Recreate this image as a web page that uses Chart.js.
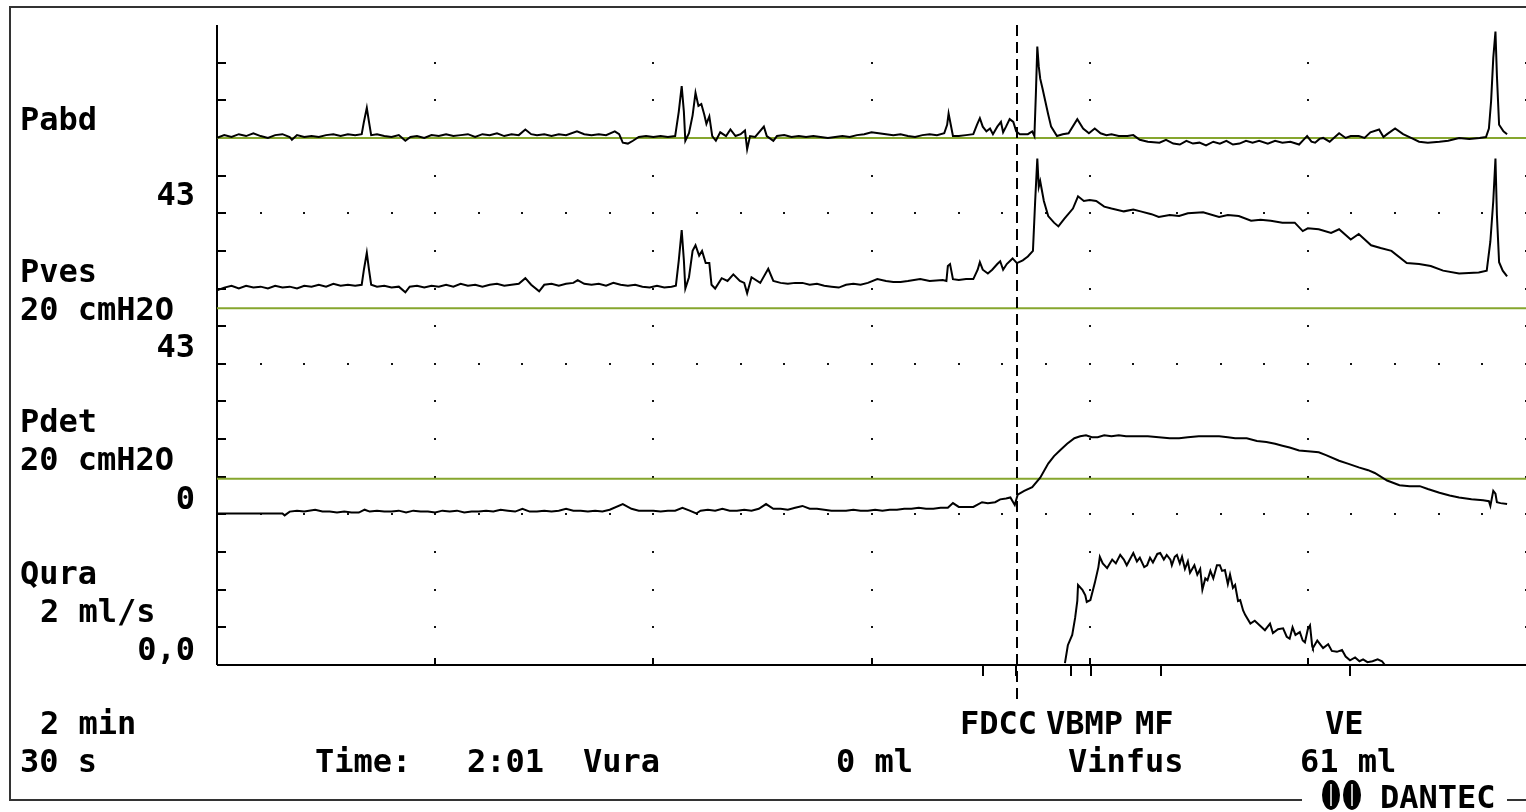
<!DOCTYPE html>
<html>
<head>
<meta charset="UTF-8">
<title>Pabd / Pves / Pdet / Qura</title>
<script src="https://cdn.jsdelivr.net/npm/chart.js"></script>
<style>
  html, body {margin: 0; padding: 0; background: #fff;}
  #wrap {position: relative; width: 1526px; height: 812px;}
</style>
</head>
<body>
<div id="wrap"><canvas id="trace" width="1526" height="812"></canvas></div>

<script>
// time on screen, seconds (30 s per major division)
const timeRange = [0, 180];
const majorStep = 30;
const minorStep = 6;

// Pabd, cmH2O
const pabdT = [0,1,2,3,4,5,6,7,8,9,10,10.3,11,12,13,14,15,16,17,18,19,19.9,20.2,20.6,20.9,21.2,
  22,23,24,25,25.9,26.6,27.5,28.5,29.5,30.5,31.5,32.5,33.5,34.5,35.5,36.5,37.5,38.5,39.5,40.5,41.5,
  42.4,43.2,44,45,46,47,48,49.5,50.5,51.5,52.5,53.5,54.7,55.3,55.8,56.5,57.2,58,59,60,61,62,63,
  63.5,63.9,64.2,64.4,64.9,65.4,65.8,66.2,66.6,67,67.3,67.7,68.1,68.6,69.2,70,70.6,71.3,72,72.6,72.9,
  73.3,74,75.2,75.6,76.5,77,78,79,80,81,82,83,84,85,86,87,88,89,90,91,92,93,94,95,96,97,98,99,100,
  100.4,100.6,100.9,101.2,102,103,104,104.5,104.9,105.3,105.8,106.3,106.7,107.3,107.8,108.1,108.5,
  109,109.5,109.9,110.4,111.5,112.1,112.4,112.6,112.8,113,113.2,113.5,113.9,114.3,114.7,115.5,116.3,
  117.1,118.3,119.1,119.9,120.7,121.5,122.3,123,124,125.2,126,126.9,128,129.6,130.5,131.5,132.4,
  133.3,134.2,135.1,136,137,137.9,138.8,139.7,140.6,141.5,142.4,143.3,144.5,145.5,146.5,147.6,148.8,
  149.4,149.9,150.5,151,151.6,152.1,153,154.3,155.2,155.9,157,157.8,158.6,159.8,160.4,160.9,162,
  163.1,164.2,165.3,166.5,168.1,169.3,170.8,172.2,173.6,174.5,174.9,175.2,175.5,175.8,176,176.3,
  176.9,177.4];
const pabdV = [40,41.5,40.5,42,41,42.5,41,40,41.5,42,40.5,39,41.5,40.5,41,40.5,41.5,42,41,42,41.5,42,48.5,56,48.5,41.5,
  42,41,40.5,41.5,38.5,40.5,41,40,41.5,41,42,41,41.5,42,40.5,42,41.5,42.5,41,42,41.5,
  44.5,42,41.5,42,41,42,41.5,43.5,42,41.5,42,41.5,43.5,42,37.5,37,38.5,40.5,41,40.5,41,40.5,41,
  54,67.5,54,38.5,42.5,52,64,57,58,52.5,47.5,51.5,41,38.5,43,41,44.5,41,42,44,34,
  41,40.5,46,41,38.5,41,41.5,40.5,41,40.5,41,40.5,40,40.5,41,40.5,41.5,42,43,42.5,42,41.5,42,41,40.5,41.5,42,41.5,42.5,
  47,53,47,41,41,41.5,42,47,50.5,46,43.5,45,42,46,48.5,43,46,
  50,48.5,43.5,42,42,43.5,41,63,88.5,78,71.5,66.5,59.5,52.5,46,41,42,
  42.5,50,45,42.5,45,42.5,41.5,42,41,41,41.5,39,38,37.5,39,37,36.5,
  38.5,37,37.5,36,38,37,38.5,36.5,37,38.5,37.5,38.5,37,38.5,37.5,38,36.5,
  39,41,38,37.5,39.5,40,38,42.5,40,41,41,40,43,44.5,40.5,42,45,
  42,40,38,37.5,38,38.5,40,39.5,40,40.5,45,59.5,82.5,96.5,73,47,
  43.5,42];

// Pves, cmH2O
const pvesT = [0,1,2,3,4,5,6,7,8,9,10,11,12,13,14,15,16,17,18,19,19.9,20.2,20.6,20.9,21.2,
  22,23,24,25,25.9,26.5,27.5,28.5,29.5,30.5,31.5,32.5,33.5,34.5,35.5,36.5,37.5,38.5,39.5,40.5,41.5,
  42.4,43.2,44.3,45,46,47,48,49,49.6,50.5,51.5,52.5,53.5,54.5,55.5,56.5,57.5,58.5,59.5,60.5,61.5,62.5,63.1,
  63.5,63.9,64.2,64.4,64.9,65.4,65.8,66.3,66.7,67.2,67.7,68,68.5,69.4,70.2,71,71.9,72.5,72.9,73.5,74.7,
  75.8,76.5,77.5,78.5,79.5,80.5,81.5,82.5,83.5,84.5,85.5,86.5,87.5,88.5,89.5,90.8,92,93,94,95,96.7,98,99.8,
  100.3,100.5,100.8,101.2,102,103,104,104.6,104.9,105.3,106,106.6,107.3,107.7,108.1,108.6,109.4,110,
  110.8,111.5,112.2,112.5,112.8,113,113.2,113.7,114.3,115.1,115.7,116.5,117.7,118.4,119.2,120,120.9,
  122,123,124.7,126,127,128.5,129.5,131,132.3,133.5,135.6,137.8,139,140.5,142.2,143.5,144.9,146.5,
  148.2,149.3,150,151.5,153.2,154.3,155.9,157,158.7,160,161.5,163.6,165.3,166.9,168.6,170.8,173.5,
  174.6,175.1,175.5,175.8,176,176.3,176.8,177.4];
const pvesV = [39,40.5,41.5,40,41.5,40.5,41,40,41.5,40.5,41,40,41.5,41,42,41,42.5,41.5,42,41.5,42,50,59,50,42,
  41,41.5,40.5,41,38,41,41.5,40.5,41.5,41,42,41,42.5,41.5,42,41,42,42.5,41.5,42,42.5,
  45.5,42,38.5,42,42.5,41.5,42.5,43,44.5,42.5,42,42.5,41.5,43,42,41.5,42,41,40.5,41.5,40.5,41,41.5,
  55,71,55,40,46,60,63,57.5,60,53.5,53.5,42,40,45.5,44,47.5,44,43,37.5,46,43,
  50.5,44,43,42.5,43,43,42,42.5,41.5,41,40.5,42,42.5,42,43,45,44,43.5,43.5,44,45,44,44.5,
  44,52,53,45,44.5,45,45,50,54,50,48,50,53,54.5,50,53,56,53.5,
  55,57,60,86,109,94,97,86.5,78.5,75,73,77,82.5,89,86.5,87,86.5,
  83.5,82.5,81,82,81,79.5,78,79,78.5,80,80.5,78,79,78.5,76,76.5,76,75,
  75,70.5,72,71.5,69.5,71.5,66,69,63,61.5,60,53.5,53,52,49.5,48,48.5,
  49.5,65,86.5,109,79,54,49.5,46.5];

// Pdet, cmH2O
const pdetT = [0,9,9.3,10,11,12,13.5,14.5,15.5,16.5,17.5,18.5,19.5,20.3,21,22,23,24,25,26,27,28,29,30,
  31,32,33,34,35,36,37,38,39,40,41,42,43,44,45,46,47,48,49,50,51,52,53,54,55.8,57,58,59,60,61,62,63,
  64,65,65.9,66.5,67.5,68.5,69.5,70.5,71.5,72.5,73.5,74.5,75.5,76.5,77.5,78.5,79.5,80.5,81.5,82.5,
  83.5,84.5,85.5,86.5,87.5,88.5,89.5,90.5,91.5,92.5,93.5,94.5,95.5,96.5,97.5,98.5,99.5,100.5,101.2,
  102,103,104,105.2,106,107,107.7,108.5,109.1,109.7,110.1,111,112.1,113.2,114.3,115.1,115.9,116.9,
  117.9,118.7,119.5,120.3,121.1,122,123,124,125,126.9,128,129.5,131,132.3,133.5,135,136.5,137.8,139,
  140,141.6,143,144.3,145.5,146.5,147.5,148.8,150,151.5,152.5,154.3,155.5,157,158.3,159.2,160.9,
  162.6,164,165.4,166.5,168.1,169.5,170.8,172.5,174.1,174.9,175.1,175.5,175.8,176,176.5,177.4];
const pdetV = [0.5,0.5,-0.5,1.5,2,1.5,2.5,1.5,1.5,1,1.5,1,1,2.5,1.5,2,1.5,1.5,2,1,2,1.5,1.5,1,
  2,1.5,2,1,1.5,1.5,2,1.5,2.5,2,1.5,3,1.5,1.5,2,1.5,2,3,2,2,1.5,2,1.5,2.5,5.5,3,2,2,2,1.5,2,2,
  3.5,2,0.5,2,2.5,2,3,2,2,2.5,2,3,5.5,3,3,2.5,3.5,4.5,3,3,
  2.5,2,2,2,2.5,2,2,2.5,2,2.5,2.5,3,3,3.5,3,3,3.5,3.5,6,
  4,4,4,6.5,6,6.5,8,8.5,9,5,10.5,12.5,14.5,19.5,27,31,34,37.5,
  40.5,41.5,42,41,41,42,41.5,42,41.5,41.5,41.5,41,40.5,40.5,41,41.5,41.5,41.5,41,
  40.5,40.5,39,38.5,37.5,36.5,35.5,34,33.5,33,31.5,28.5,27,25,23.5,22,18,
  15.5,15,15,13.5,11.5,10,9,8,7.5,7,4.5,12.5,11,6.5,6,5.5];

// Qura, ml/s
const quraT = [116.6,117,117.6,118,118.3,118.4,119,119.4,119.6,120.1,120.7,121.2,121.4,121.8,122.4,
  123.1,123.6,124.2,124.7,125.1,126,126.5,126.9,127.5,127.9,128.3,128.7,129.3,129.7,130.2,130.6,
  131.1,131.3,131.7,132,132.4,132.7,133.1,133.5,133.8,134.4,134.8,135.2,135.5,135.9,136.2,136.6,
  137,137.5,137.9,138.2,138.6,139,139.3,139.7,140,140.4,140.7,141.1,141.4,142.1,142.7,143.4,144.1,
  144.8,145.2,145.9,146.6,147.1,147.5,147.9,148.3,148.9,149.3,149.6,150,150.3,150.6,150.7,151.3,
  152.1,152.8,153.3,154,154.7,155.2,155.8,156.5,157.1,157.6,158.2,158.9,159.6,160.2,160.6];
const quraV = [0.1,1.05,1.6,2.5,3.4,4.25,4,3.7,3.35,3.45,4.35,5.2,5.75,5.4,5.15,
  5.6,5.4,5.85,5.6,5.3,5.95,5.5,5.7,5.2,5.3,5.7,5.45,5.9,5.95,5.6,5.85,
  5.6,5.3,5.75,5.85,5.4,5.75,5.1,5.5,4.9,5.3,4.8,5.1,4,4.6,4.5,5,
  4.6,5.3,5.3,5,5.05,4.3,4.8,4.1,4.25,3.4,3.45,2.9,2.65,2.2,2.35,2.1,1.85,
  2.2,1.7,1.9,1.95,1.5,1.4,2,1.6,1.75,1.3,1.2,1.9,2.1,1,0.9,1.3,
  0.9,1.1,0.75,0.7,0.8,0.45,0.25,0.4,0.2,0.3,0.15,0.2,0.3,0.2,0];

// reference levels drawn in green (Pabd, Pves, Pdet)
const refLevels = [40, 29.5, 19];

// event marks under the time axis
const eventNames = ['FD', 'CC', 'VB', 'MP', 'MF', 'VE'];
const eventTimes = [105.3, 109.9, 117.4, 120.2, 129.8, 155.8];
const cursorTime = 110;

// channel ranges: 17 divisions of 20 cmH2O or 2 ml/s
const chanRange = {
  yPabd: [-240, 100],
  yPves: [-160, 180],
  yPdet: [-80, 260],
  yQura: [0, 34]
};

const ink = '#000';
const green = '#86a62e';
const mono = '"DejaVu Sans Mono", "Liberation Mono", monospace';

function pts(ts, vs) { return ts.map((t, i) => ({x: t, y: vs[i]})); }

function traceSet(label, ts, vs, axis) {
  return {label, data: pts(ts, vs), yAxisID: axis, borderColor: ink, borderWidth: 2,
    pointRadius: 0, tension: 0, fill: false, order: 0};
}
function refSet(axis, level) {
  return {label: 'ref', data: [{x: timeRange[0], y: level}, {x: timeRange[1], y: level}],
    yAxisID: axis, borderColor: green, borderWidth: 2, pointRadius: 0, order: 1};
}

const leftLabels = [
  ['Pabd', 20, 130, 'left'], ['43', 195, 205, 'right'],
  ['Pves', 20, 282, 'left'], ['20 cmH2O', 20, 320, 'left'], ['43', 195, 357, 'right'],
  ['Pdet', 20, 432, 'left'], ['20 cmH2O', 20, 470, 'left'], ['0', 195, 509, 'right'],
  ['Qura', 20, 584, 'left'], ['2 ml/s', 40, 622, 'left'], ['0,0', 195, 660, 'right'],
  ['2 min', 40, 734, 'left'], ['30 s', 20, 772, 'left'],
  ['Time:', 315, 772, 'left'], ['2:01', 467, 772, 'left'], ['Vura', 583, 772, 'left'],
  ['0 ml', 836, 772, 'left'], ['Vinfus', 1068, 772, 'left'], ['61 ml', 1300, 772, 'left'],
  ['FDCC', 960, 734, 'left'], ['VBMP', 1046, 734, 'left'], ['MF', 1135, 734, 'left'],
  ['VE', 1325, 734, 'left']
];

const paper = {
  id: 'paper',
  beforeDraw(chart) {
    const {ctx, chartArea: a, scales} = chart;
    const xs = scales.x, q = scales.yQura;
    ctx.save();
    ctx.fillStyle = '#fff';
    ctx.fillRect(0, 0, chart.width, chart.height);

    // outer frame
    ctx.strokeStyle = '#333';
    ctx.lineWidth = 2;
    ctx.beginPath();
    ctx.moveTo(1302, 800); ctx.lineTo(10, 800); ctx.lineTo(10, 7); ctx.lineTo(chart.width, 7);
    ctx.moveTo(1507, 800); ctx.lineTo(chart.width, 800);
    ctx.stroke();

    // dotted grid: major columns at every y tick, rows at channel zeros
    ctx.fillStyle = '#111';
    for (let t = timeRange[0] + majorStep; t <= timeRange[1]; t += majorStep) {
      const px = Math.round(xs.getPixelForValue(t));
      for (let v = 2; v < chanRange.yQura[1]; v += 2) {
        ctx.fillRect(px - 1, Math.round(q.getPixelForValue(v)) - 1, 2, 2);
      }
    }
    ['yPabd', 'yPves', 'yPdet'].forEach(id => {
      const py = Math.round(scales[id].getPixelForValue(0));
      for (let t = timeRange[0] + minorStep; t <= timeRange[1]; t += minorStep) {
        ctx.fillRect(Math.round(xs.getPixelForValue(t)) - 1, py - 1, 2, 2);
      }
    });

    // y axis with inward ticks
    ctx.strokeStyle = ink;
    ctx.lineWidth = 2;
    ctx.beginPath();
    ctx.moveTo(a.left, a.top); ctx.lineTo(a.left, a.bottom);
    for (let v = 2; v < chanRange.yQura[1]; v += 2) {
      const py = Math.round(q.getPixelForValue(v));
      ctx.moveTo(a.left, py); ctx.lineTo(a.left + 9, py);
    }
    ctx.stroke();
    ctx.restore();
  },
  afterDatasetsDraw(chart) {
    const {ctx, chartArea: a, scales} = chart;
    const xs = scales.x;
    ctx.save();
    ctx.strokeStyle = ink;
    ctx.lineWidth = 2;
    // time axis
    ctx.beginPath();
    ctx.moveTo(a.left, a.bottom); ctx.lineTo(a.right, a.bottom);
    for (let t = timeRange[0] + majorStep; t < timeRange[1]; t += majorStep) {
      const px = Math.round(xs.getPixelForValue(t));
      ctx.moveTo(px, a.bottom); ctx.lineTo(px, a.bottom - 7);
    }
    eventTimes.forEach(t => {
      const px = Math.round(xs.getPixelForValue(t));
      ctx.moveTo(px, a.bottom); ctx.lineTo(px, a.bottom + 11);
    });
    ctx.stroke();

    // cursor
    const cx = Math.round(xs.getPixelForValue(cursorTime));
    ctx.setLineDash([11, 6]);
    ctx.beginPath();
    ctx.moveTo(cx, a.top); ctx.lineTo(cx, a.bottom + 38);
    ctx.stroke();
    ctx.setLineDash([]);

    // labels
    ctx.fillStyle = ink;
    ctx.font = 'bold 32px ' + mono;
    ctx.textBaseline = 'alphabetic';
    leftLabels.forEach(([s, x, y, al]) => {
      ctx.textAlign = al;
      ctx.fillText(s, x, y);
    });

    // logo
    ctx.beginPath();
    ctx.ellipse(1331, 795, 9, 15, 0, 0, Math.PI * 2);
    ctx.ellipse(1352, 795, 9, 15, 0, 0, Math.PI * 2);
    ctx.fill();
    ctx.strokeStyle = '#fff';
    ctx.lineWidth = 1.5;
    ctx.beginPath();
    ctx.moveTo(1331, 784); ctx.lineTo(1331, 806);
    ctx.moveTo(1352, 784); ctx.lineTo(1352, 806);
    ctx.stroke();
    ctx.textAlign = 'left';
    ctx.fillText('DANTEC', 1380, 808);
    ctx.restore();
  }
};

new Chart(document.getElementById('trace').getContext('2d'), {
  type: 'line',
  data: {
    datasets: [
      traceSet('Pabd', pabdT, pabdV, 'yPabd'),
      traceSet('Pves', pvesT, pvesV, 'yPves'),
      traceSet('Pdet', pdetT, pdetV, 'yPdet'),
      traceSet('Qura', quraT, quraV, 'yQura'),
      refSet('yPabd', refLevels[0]),
      refSet('yPves', refLevels[1]),
      refSet('yPdet', refLevels[2])
    ]
  },
  options: {
    responsive: false,
    devicePixelRatio: 1,
    animation: false,
    events: [],
    layout: {padding: {left: 217, right: 0, top: 25, bottom: 147}},
    scales: {
      x: {type: 'linear', min: timeRange[0], max: timeRange[1], display: false},
      yPabd: {type: 'linear', min: chanRange.yPabd[0], max: chanRange.yPabd[1], display: false},
      yPves: {type: 'linear', min: chanRange.yPves[0], max: chanRange.yPves[1], display: false},
      yPdet: {type: 'linear', min: chanRange.yPdet[0], max: chanRange.yPdet[1], display: false},
      yQura: {type: 'linear', min: chanRange.yQura[0], max: chanRange.yQura[1], display: false}
    },
    plugins: {legend: {display: false}, tooltip: {enabled: false}}
  },
  plugins: [paper]
});
</script>
</body>
</html>
